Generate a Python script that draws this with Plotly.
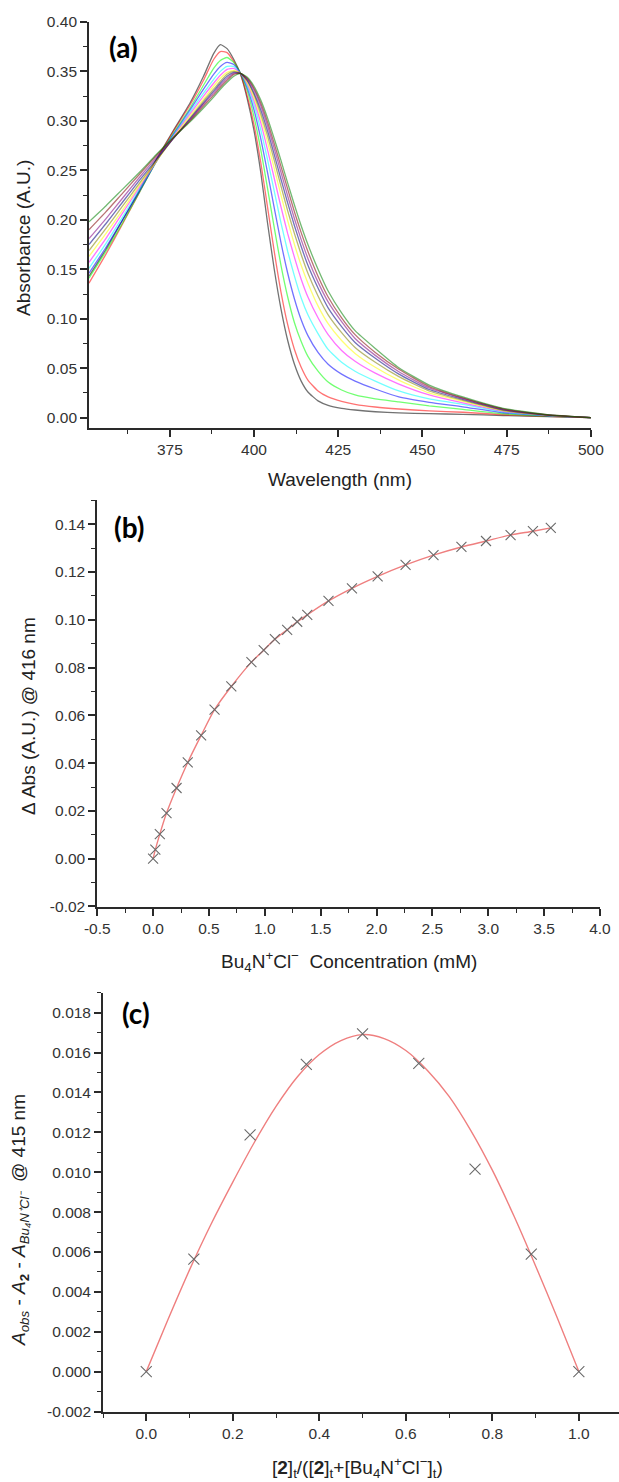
import plotly.graph_objects as go

# ---------------- Panel (a): UV-vis titration spectra ----------------
wavelength = [351, 356, 361, 366, 371, 376, 381, 385, 388, 390, 392, 394, 396, 398, 400,
              402, 404, 406, 408, 410, 412, 414, 416, 419, 422, 426, 430, 436, 443, 452,
              462, 474, 487, 500]

abs_black = [0.143, 0.170, 0.200, 0.230, 0.261, 0.290, 0.318, 0.345, 0.368, 0.377, 0.373, 0.362, 0.347, 0.322, 0.290,
             0.248, 0.197, 0.150, 0.110, 0.078, 0.054, 0.037, 0.026, 0.017, 0.0125, 0.0095, 0.0078, 0.006, 0.0048, 0.0041,
             0.0034, 0.0022, 0.001, 0.0]
abs_red = [0.136, 0.165, 0.196, 0.228, 0.260, 0.289, 0.316, 0.341, 0.362, 0.370, 0.369, 0.360, 0.347, 0.325, 0.296,
           0.258, 0.213, 0.168, 0.127, 0.094, 0.069, 0.051, 0.038, 0.027, 0.021, 0.0165, 0.0135, 0.0108, 0.0088, 0.0069,
           0.0055, 0.003, 0.0013, 0.0]
abs_green = [0.141, 0.168, 0.197, 0.228, 0.259, 0.287, 0.313, 0.336, 0.353, 0.361, 0.364, 0.359, 0.348, 0.330, 0.304,
             0.271, 0.232, 0.192, 0.154, 0.122, 0.096, 0.077, 0.062, 0.047, 0.036, 0.028, 0.023, 0.019, 0.016, 0.012,
             0.0085, 0.004, 0.0016, 0.0]
abs_blue = [0.146, 0.172, 0.200, 0.229, 0.259, 0.286, 0.311, 0.332, 0.347, 0.355, 0.359, 0.357, 0.348, 0.333, 0.311,
            0.282, 0.248, 0.212, 0.177, 0.146, 0.120, 0.099, 0.083, 0.066, 0.054, 0.044, 0.037, 0.029, 0.021, 0.0155,
            0.011, 0.005, 0.002, 0.0]
abs_cyan = [0.151, 0.176, 0.203, 0.231, 0.259, 0.285, 0.309, 0.328, 0.342, 0.350, 0.355, 0.355, 0.348, 0.335, 0.316,
            0.291, 0.261, 0.229, 0.197, 0.168, 0.143, 0.121, 0.104, 0.085, 0.069, 0.056, 0.047, 0.037, 0.027, 0.019,
            0.0135, 0.0058, 0.0022, 0.0]
abs_magenta = [0.157, 0.181, 0.207, 0.233, 0.259, 0.284, 0.307, 0.325, 0.338, 0.346, 0.352, 0.353, 0.348, 0.337, 0.320,
               0.298, 0.271, 0.242, 0.213, 0.186, 0.162, 0.140, 0.122, 0.101, 0.084, 0.068, 0.057, 0.045, 0.034, 0.023,
               0.015, 0.0065, 0.0024, 0.0]
abs_yellow = [0.163, 0.186, 0.210, 0.235, 0.259, 0.283, 0.305, 0.322, 0.335, 0.343, 0.349, 0.351, 0.348, 0.338, 0.323,
              0.303, 0.279, 0.252, 0.225, 0.199, 0.175, 0.154, 0.136, 0.113, 0.095, 0.078, 0.065, 0.051, 0.038, 0.025,
              0.0165, 0.007, 0.0026, 0.0]
abs_darkyellow = [0.169, 0.191, 0.214, 0.237, 0.260, 0.282, 0.303, 0.320, 0.332, 0.340, 0.347, 0.350, 0.348, 0.340, 0.326,
                  0.307, 0.285, 0.260, 0.234, 0.209, 0.186, 0.165, 0.146, 0.123, 0.104, 0.086, 0.071, 0.056, 0.0415, 0.027,
                  0.0175, 0.0075, 0.0027, 0.0]
abs_navy = [0.175, 0.196, 0.218, 0.240, 0.261, 0.282, 0.302, 0.318, 0.330, 0.338, 0.345, 0.349, 0.348, 0.341, 0.328,
            0.311, 0.290, 0.266, 0.241, 0.217, 0.194, 0.173, 0.154, 0.131, 0.111, 0.092, 0.076, 0.060, 0.044, 0.0285,
            0.0185, 0.008, 0.0028, 0.0]
abs_purple = [0.181, 0.201, 0.222, 0.243, 0.263, 0.282, 0.301, 0.317, 0.328, 0.336, 0.343, 0.348, 0.348, 0.342, 0.331,
              0.315, 0.295, 0.272, 0.248, 0.224, 0.201, 0.180, 0.161, 0.137, 0.117, 0.097, 0.080, 0.063, 0.0465, 0.030,
              0.0195, 0.0085, 0.0029, 0.0]
abs_wine = [0.190, 0.208, 0.227, 0.246, 0.265, 0.283, 0.300, 0.315, 0.326, 0.334, 0.341, 0.347, 0.348, 0.343, 0.333,
            0.318, 0.299, 0.277, 0.254, 0.231, 0.208, 0.187, 0.168, 0.143, 0.122, 0.101, 0.084, 0.066, 0.049, 0.0315,
            0.020, 0.009, 0.003, 0.0]
abs_olive = [0.198, 0.214, 0.231, 0.248, 0.266, 0.283, 0.299, 0.313, 0.324, 0.332, 0.339, 0.345, 0.348, 0.344, 0.335,
             0.321, 0.303, 0.282, 0.260, 0.237, 0.215, 0.194, 0.175, 0.150, 0.128, 0.106, 0.088, 0.070, 0.0505, 0.033,
             0.021, 0.0095, 0.0031, 0.0]

spectra = [abs_black, abs_red, abs_green, abs_blue, abs_cyan, abs_magenta, abs_yellow,
           abs_darkyellow, abs_navy, abs_purple, abs_wine, abs_olive]
spectra_colors = ["#000000", "#FF0000", "#00FF00", "#0000FF", "#00FFFF", "#FF00FF", "#FFFF00",
                  "#808000", "#000080", "#800080", "#800000", "#008000"]

# ---------------- Panel (b): titration isotherm ----------------
conc_mM = [0.0, 0.02, 0.06, 0.12, 0.21, 0.31, 0.43, 0.55, 0.70, 0.88, 0.99, 1.09, 1.20, 1.29, 1.38,
           1.57, 1.78, 2.01, 2.26, 2.51, 2.76, 2.98, 3.20, 3.40, 3.56]
delta_abs = [0.0, 0.0038, 0.0103, 0.0191, 0.0296, 0.0403, 0.0516, 0.0624, 0.0721, 0.0823, 0.0873, 0.0919,
             0.0958, 0.0992, 0.1021, 0.1079, 0.1132, 0.1182, 0.1230, 0.1271, 0.1305, 0.1330, 0.1355, 0.1371, 0.1385]

# ---------------- Panel (c): Job plot ----------------
mole_fraction = [0.0, 0.11, 0.24, 0.37, 0.50, 0.63, 0.76, 0.89, 1.0]
job_values = [0.0, 0.00564, 0.01187, 0.01541, 0.01693, 0.01546, 0.01015, 0.00589, 0.0]
job_fit_x = [0.0, 0.05, 0.10, 0.15, 0.20, 0.25, 0.30, 0.35, 0.40, 0.45, 0.50, 0.55, 0.60, 0.65, 0.70,
             0.75, 0.80, 0.85, 0.90, 0.95, 1.0]
job_fit_y = [0.0, 0.0026, 0.0051, 0.0074, 0.0095, 0.0115, 0.0133, 0.0148, 0.0159, 0.0166, 0.0169, 0.0167,
             0.0161, 0.0151, 0.0138, 0.0121, 0.0101, 0.0078, 0.0053, 0.0027, 0.0]

# ---------------- tick labels ----------------
ticks_a_x = [375, 400, 425, 450, 475, 500]
ticks_a_y = [0.00, 0.05, 0.10, 0.15, 0.20, 0.25, 0.30, 0.35, 0.40]
labels_a_y = ["0.00", "0.05", "0.10", "0.15", "0.20", "0.25", "0.30", "0.35", "0.40"]
ticks_b_x = [-0.5, 0.0, 0.5, 1.0, 1.5, 2.0, 2.5, 3.0, 3.5, 4.0]
labels_b_x = ["-0.5", "0.0", "0.5", "1.0", "1.5", "2.0", "2.5", "3.0", "3.5", "4.0"]
ticks_b_y = [-0.02, 0.0, 0.02, 0.04, 0.06, 0.08, 0.10, 0.12, 0.14]
labels_b_y = ["-0.02", "0.00", "0.02", "0.04", "0.06", "0.08", "0.10", "0.12", "0.14"]
ticks_c_x = [0.0, 0.2, 0.4, 0.6, 0.8, 1.0]
labels_c_x = ["0.0", "0.2", "0.4", "0.6", "0.8", "1.0"]
ticks_c_y = [-0.002, 0.0, 0.002, 0.004, 0.006, 0.008, 0.010, 0.012, 0.014, 0.016, 0.018]
labels_c_y = ["-0.002", "0.000", "0.002", "0.004", "0.006", "0.008", "0.010", "0.012", "0.014",
              "0.016", "0.018"]

W, H = 619, 1482
FONT = "Liberation Sans, Arial, sans-serif"
TICKCOL = "#333333"
AXCOL = "#2a2a2a"
FIT_COL = "#ef7f7f"
MARK_COL = "#6a6a6a"

fig = go.Figure()

for vals, col in zip(spectra, spectra_colors):
    fig.add_trace(go.Scatter(x=wavelength, y=vals, mode="lines",
                             line=dict(color=col, width=1.3, shape="spline", smoothing=0.5),
                             opacity=0.55, xaxis="x", yaxis="y", showlegend=False))

fig.add_trace(go.Scatter(x=conc_mM, y=delta_abs, mode="lines",
                         line=dict(color=FIT_COL, width=1.4, shape="spline", smoothing=0.8),
                         xaxis="x2", yaxis="y2", showlegend=False))
fig.add_trace(go.Scatter(x=conc_mM, y=delta_abs, mode="markers",
                         marker=dict(symbol="x-thin", size=10, line=dict(color=MARK_COL, width=1.1)),
                         xaxis="x2", yaxis="y2", showlegend=False))

fig.add_trace(go.Scatter(x=job_fit_x, y=job_fit_y, mode="lines",
                         line=dict(color=FIT_COL, width=1.4, shape="spline", smoothing=0.8),
                         xaxis="x3", yaxis="y3", showlegend=False))
fig.add_trace(go.Scatter(x=mole_fraction, y=job_values, mode="markers",
                         marker=dict(symbol="x-thin", size=11, line=dict(color=MARK_COL, width=1.1)),
                         xaxis="x3", yaxis="y3", showlegend=False))


def px_x(p):
    return p / W


def px_y(p):
    return 1 - p / H


def axis(domain, rng, tickvals, ticktext, minor_dtick, anchor):
    return dict(domain=domain, range=rng, tickmode="array", tickvals=tickvals, ticktext=ticktext,
                showline=True, linecolor=AXCOL, linewidth=1.8, mirror=False,
                ticks="outside", ticklen=7, tickwidth=1.5, tickcolor=AXCOL,
                showgrid=False, zeroline=False, anchor=anchor, automargin=False,
                tickfont=dict(family=FONT, size=15.5, color=TICKCOL),
                minor=dict(dtick=minor_dtick, tick0=0, ticks="outside", ticklen=4,
                           tickwidth=1.3, tickcolor=AXCOL, showgrid=False))


fig.update_layout(
    width=W, height=H, autosize=False, margin=dict(l=0, r=0, t=0, b=0, pad=0),
    paper_bgcolor="white", plot_bgcolor="white", showlegend=False,
    xaxis=axis([px_x(89), px_x(591)], [351, 500.05], ticks_a_x, [str(v) for v in ticks_a_x], 12.5, "y"),
    yaxis=axis([px_y(427.7), px_y(21.7)], [-0.0101, 0.4002], ticks_a_y, labels_a_y, 0.025, "x"),
    xaxis2=axis([px_x(97.2), px_x(600)], [-0.5005, 4.0005], ticks_b_x, labels_b_x, 0.25, "y2"),
    yaxis2=axis([px_y(906.7), px_y(500.4)], [-0.0201, 0.150], ticks_b_y, labels_b_y, 0.01, "x2"),
    xaxis3=axis([px_x(103), 1.0], [-0.1, 1.0928], ticks_c_x, labels_c_x, 0.1, "y3"),
    yaxis3=axis([px_y(1411.7), px_y(992.7)], [-0.00201, 0.019], ticks_c_y, labels_c_y, 0.001, "x3"),
)

title_font = dict(family=FONT, size=19, color="#222222")
label_font = dict(family="Lato, Liberation Sans, sans-serif", size=28, color="#000000")

annots = [
    # panel (a)
    dict(x=px_x(24), y=px_y(238), text="Absorbance (A.U.)", textangle=-90, font=title_font),
    dict(x=px_x(340), y=px_y(480), text="Wavelength (nm)", font=title_font),
    dict(x=px_x(123), y=px_y(47), text="<b>(a)</b>", font=label_font),
    # panel (b)
    dict(x=px_x(28), y=px_y(716), text="Δ Abs (A.U.) @ 416 nm", textangle=-90, font=title_font),
    dict(x=px_x(349), y=px_y(961.7),
         text="Bu<sub>4</sub>N<sup>+</sup>Cl<sup>−</sup>  Concentration (mM)", font=title_font),
    dict(x=px_x(129), y=px_y(527), text="<b>(b)</b>", font=label_font),
    # panel (c)
    dict(x=px_x(20), y=px_y(1220),
         text="<i>A</i><sub><i>obs</i></sub> - <i>A</i><sub><b>2</b></sub> - "
              "<i>A</i><sub><i>Bu₄N⁺Cl⁻</i></sub>  @ 415 nm",
         textangle=-90, font=title_font),
    dict(x=px_x(357), y=px_y(1467),
         text="[<b>2</b>]<sub>t</sub>/([<b>2</b>]<sub>t</sub>+[Bu<sub>4</sub>N<sup>+</sup>Cl<sup>−</sup>]<sub>t</sub>)",
         font=title_font),
    dict(x=px_x(136), y=px_y(1013), text="<b>(c)</b>", font=label_font),
]
for a in annots:
    a.update(xref="paper", yref="paper", showarrow=False, xanchor="center", yanchor="middle")
fig.update_layout(annotations=annots)

post = ("document.documentElement.style.margin='0';document.body.style.margin='0';"
        "document.body.style.padding='0';document.body.style.overflow='hidden';"
        "document.documentElement.style.overflow='hidden';"
        "var gd=document.getElementById('{plot_id}');"
        "Plotly.relayout(gd,{width:619,height:1482});")

fig.write_html("out.html", config={"responsive": False, "displayModeBar": False}, post_script=post)
